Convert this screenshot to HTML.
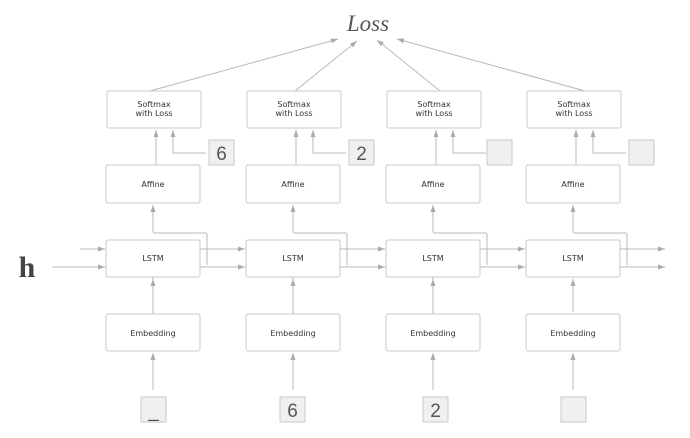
<!DOCTYPE html>
<html><head><meta charset="utf-8"><style>
html,body{margin:0;padding:0;background:#fff;}
svg{display:block;}
.b{fill:#fff;stroke:#c8c8c8;stroke-width:1;}
.l{stroke:#b8b8b8;stroke-width:1;fill:none;}
.t{font-family:"DejaVu Sans","Liberation Sans",sans-serif;font-size:8px;fill:#333;text-anchor:middle;}
.lb{fill:#f0f0f0;stroke:#c8c8c8;stroke-width:1;}
.n{font-family:"Liberation Sans",sans-serif;font-size:19px;fill:#555;text-anchor:middle;}
</style></head><body>
<svg width="690" height="438" viewBox="0 0 690 438" xmlns="http://www.w3.org/2000/svg">
<defs><marker id="a" markerWidth="8" markerHeight="8" refX="7" refY="4" orient="auto" markerUnits="userSpaceOnUse"><path d="M0,1.5 L7,4 L0,6.5 z" fill="#aaa"/></marker></defs>
<text x="368" y="31" font-family="Liberation Serif,serif" font-style="italic" font-size="23" fill="#555" text-anchor="middle">Loss</text>
<line class="l" x1="150" y1="91" x2="338" y2="39" marker-end="url(#a)"/>
<line class="l" x1="295" y1="91" x2="357" y2="41" marker-end="url(#a)"/>
<line class="l" x1="440" y1="91" x2="377" y2="40" marker-end="url(#a)"/>
<line class="l" x1="585" y1="91" x2="397" y2="39" marker-end="url(#a)"/>
<text x="27" y="277" font-family="Liberation Serif,serif" font-weight="bold" font-size="30" fill="#444" text-anchor="middle">h</text>
<line class="l" x1="80" y1="249" x2="105" y2="249" marker-end="url(#a)"/>
<line class="l" x1="52" y1="267" x2="105" y2="267" marker-end="url(#a)"/>
<g id="c1">
<rect class="b" x="107" y="91" width="94" height="37" rx="2"/>
<text class="t" x="154" y="107">Softmax</text><text class="t" x="154" y="116">with Loss</text>
<rect class="b" x="106" y="165" width="94" height="38" rx="2"/>
<text class="t" x="153" y="187">Affine</text>
<rect class="b" x="106" y="240" width="94" height="37" rx="2"/>
<text class="t" x="153" y="261">LSTM</text>
<rect class="b" x="106" y="314" width="94" height="37" rx="2"/>
<text class="t" x="153" y="336">Embedding</text>
<line class="l" x1="156" y1="165" x2="156" y2="130" marker-end="url(#a)"/>
<path class="l" d="M206,153 H173 V130" marker-end="url(#a)"/>
<path class="l" d="M207,265 V235 Q207,233 205,233 H155 Q153,233 153,231 V205" marker-end="url(#a)"/>
<line class="l" x1="153" y1="390" x2="153" y2="353" marker-end="url(#a)"/>
<line class="l" x1="153" y1="314" x2="153" y2="277"/>
<line class="l" x1="153" y1="277" x2="153" y2="279"/>
<line class="l" x1="153" y1="312" x2="153" y2="279" marker-end="url(#a)"/>
<line class="l" x1="200" y1="249" x2="245" y2="249" marker-end="url(#a)"/>
<line class="l" x1="200" y1="267" x2="245" y2="267" marker-end="url(#a)"/>
</g>
<use href="#c1" x="140"/>
<use href="#c1" x="280"/>
<g transform="translate(420,0)">
<rect class="b" x="107" y="91" width="94" height="37" rx="2"/>
<text class="t" x="154" y="107">Softmax</text><text class="t" x="154" y="116">with Loss</text>
<rect class="b" x="106" y="165" width="94" height="38" rx="2"/>
<text class="t" x="153" y="187">Affine</text>
<rect class="b" x="106" y="240" width="94" height="37" rx="2"/>
<text class="t" x="153" y="261">LSTM</text>
<rect class="b" x="106" y="314" width="94" height="37" rx="2"/>
<text class="t" x="153" y="336">Embedding</text>
<line class="l" x1="156" y1="165" x2="156" y2="130" marker-end="url(#a)"/>
<path class="l" d="M206,153 H173 V130" marker-end="url(#a)"/>
<path class="l" d="M207,265 V235 Q207,233 205,233 H155 Q153,233 153,231 V205" marker-end="url(#a)"/>
<line class="l" x1="153" y1="390" x2="153" y2="353" marker-end="url(#a)"/>
<line class="l" x1="153" y1="312" x2="153" y2="279" marker-end="url(#a)"/>
<line class="l" x1="200" y1="249" x2="245" y2="249" marker-end="url(#a)"/>
<line class="l" x1="200" y1="267" x2="245" y2="267" marker-end="url(#a)"/>
</g>
<rect class="lb" x="209" y="140" width="25" height="25"/><text class="n" x="221.5" y="160">6</text>
<rect class="lb" x="349" y="140" width="25" height="25"/><text class="n" x="361.5" y="160">2</text>
<rect class="lb" x="487" y="140" width="25" height="25"/>
<rect class="lb" x="629" y="140" width="25" height="25"/>
<rect class="lb" x="141" y="397" width="25" height="25"/><text class="n" x="153.5" y="417">_</text>
<rect class="lb" x="280" y="397" width="25" height="25"/><text class="n" x="292.5" y="417">6</text>
<rect class="lb" x="423" y="397" width="25" height="25"/><text class="n" x="435.5" y="417">2</text>
<rect class="lb" x="561" y="397" width="25" height="25"/>
</svg>
</body></html>
